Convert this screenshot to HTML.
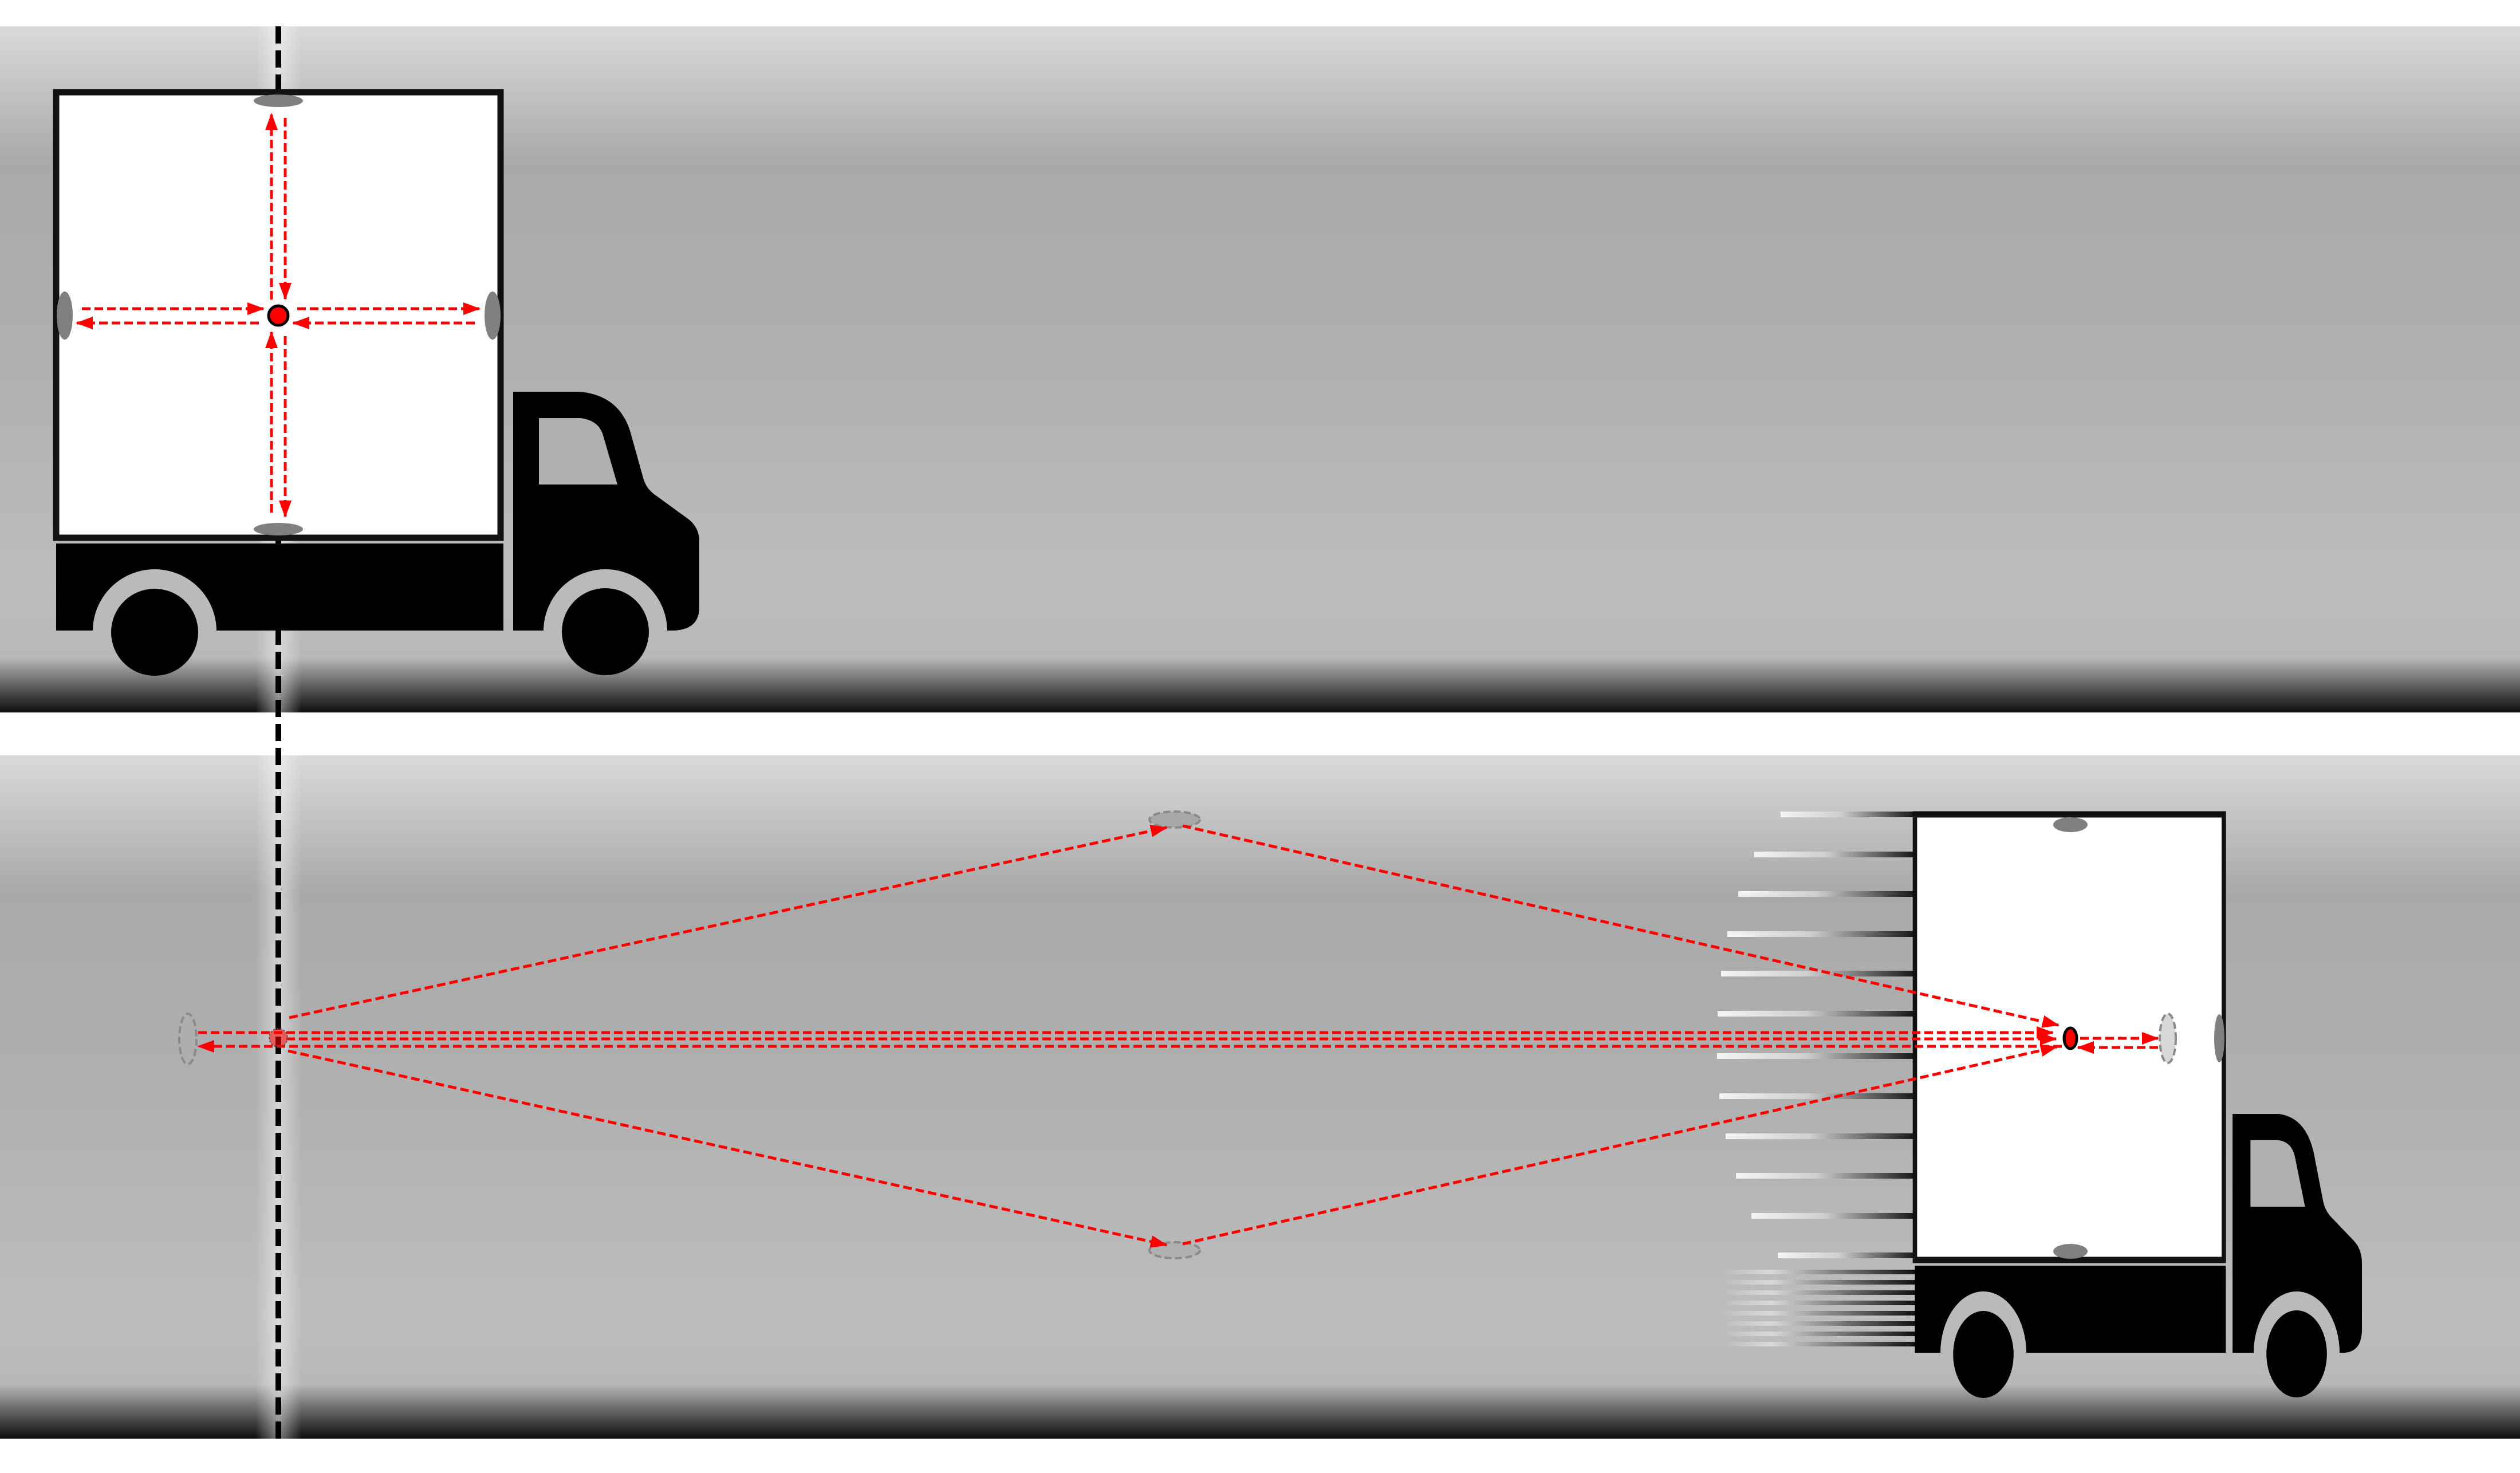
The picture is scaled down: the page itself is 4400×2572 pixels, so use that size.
<!DOCTYPE html>
<html><head><meta charset="utf-8"><style>html,body{margin:0;padding:0;background:#fff}svg{display:block}</style></head>
<body>
<svg width="4400" height="2572" viewBox="0 0 4400 2572" xmlns="http://www.w3.org/2000/svg">
<defs>
<linearGradient id="band" x1="0" y1="0" x2="0" y2="1">
<stop offset="0" stop-color="#d9d9d9"/><stop offset="0.2" stop-color="#a9a9a9"/><stop offset="0.5" stop-color="#b0b0b0"/><stop offset="0.82" stop-color="#bdbdbd"/><stop offset="0.92" stop-color="#b8b8b8"/><stop offset="1" stop-color="#0e0e0e"/>
</linearGradient>
<linearGradient id="halo" x1="0" y1="0" x2="1" y2="0">
<stop offset="0" stop-color="#fff" stop-opacity="0"/><stop offset="0.5" stop-color="#fff" stop-opacity="0.45"/><stop offset="1" stop-color="#fff" stop-opacity="0"/>
</linearGradient>
<linearGradient id="speed" x1="0" y1="0" x2="1" y2="0">
<stop offset="0" stop-color="#f4f4f4"/><stop offset="0.45" stop-color="#cfcfcf"/><stop offset="1" stop-color="#1a1a1a"/>
</linearGradient>
<linearGradient id="speed2" x1="0" y1="0" x2="1" y2="0">
<stop offset="0" stop-color="#e0e0e0" stop-opacity="0"/><stop offset="0.25" stop-color="#d8d8d8"/><stop offset="1" stop-color="#111"/>
</linearGradient>
<marker id="ah" markerUnits="userSpaceOnUse" markerWidth="30" markerHeight="22" refX="28" refY="11" orient="auto"><path d="M0,0 L30,11 L0,22 Z" fill="#ff0000"/></marker>
<g id="truck">
<rect x="98" y="161" width="776" height="778" fill="#fff" stroke="#111" stroke-width="11"/>
<rect x="98" y="949" width="781" height="152" fill="#000"/>
<path d="M896,684 H1012 Q1080,690 1100,752 L1124,838 Q1130,855 1145,865 L1200,905 Q1221,920 1221,945 V1060 Q1221,1100 1175,1101 H896 Z" fill="#000"/>
<path d="M941,730 H1012 Q1045,733 1053,760 L1078,846 H941 Z" fill="#b0b0b0"/>
<path d="M162,1102 A108,108 0 0 1 378,1102 Z" fill="#bababa"/>
<path d="M949,1102 A108,108 0 0 1 1165,1102 Z" fill="#bababa"/>
<circle cx="270" cy="1104" r="76" fill="#000"/>
<circle cx="1057" cy="1103" r="76" fill="#000"/>
</g>
</defs>

<rect x="0" y="46" width="4400" height="1198" fill="url(#band)"/>
<rect x="446" y="46" width="80" height="1198" fill="url(#halo)"/>
<rect x="0" y="1319" width="4400" height="1193" fill="url(#band)"/>
<rect x="446" y="1319" width="80" height="1193" fill="url(#halo)"/>

<line x1="486" y1="46" x2="486" y2="2512" stroke="#000" stroke-width="10" stroke-dasharray="30 12"/>

<use href="#truck"/>
<g fill="#808080">
<ellipse cx="486" cy="176" rx="43" ry="11"/><ellipse cx="486" cy="924" rx="43" ry="11"/>
<ellipse cx="113" cy="551" rx="14" ry="42"/><ellipse cx="860" cy="551" rx="14" ry="42"/>
</g>
<g stroke="#ff0000" stroke-width="5" stroke-dasharray="15 7" fill="none" marker-end="url(#ah)">
<line x1="474" y1="523" x2="474" y2="199"/>
<line x1="498" y1="206" x2="498" y2="522"/>
<line x1="474" y1="895" x2="474" y2="580"/>
<line x1="498" y1="587" x2="498" y2="902"/>
<line x1="143" y1="539" x2="460" y2="539"/>
<line x1="452" y1="564" x2="134" y2="564"/>
<line x1="519" y1="539" x2="837" y2="539"/>
<line x1="829" y1="564" x2="512" y2="564"/>
</g>
<circle cx="486" cy="551" r="17" fill="#ff0000" stroke="#000" stroke-width="5"/>

<g>
<rect x="3109" y="1417" width="231" height="10" fill="url(#speed)"/>
<rect x="3063" y="1487" width="277" height="10" fill="url(#speed)"/>
<rect x="3035" y="1556" width="305" height="10" fill="url(#speed)"/>
<rect x="3016" y="1626" width="324" height="10" fill="url(#speed)"/>
<rect x="3005" y="1695" width="335" height="10" fill="url(#speed)"/>
<rect x="2999" y="1765" width="341" height="10" fill="url(#speed)"/>
<rect x="2998" y="1839" width="342" height="10" fill="url(#speed)"/>
<rect x="3002" y="1909" width="338" height="10" fill="url(#speed)"/>
<rect x="3013" y="1979" width="327" height="10" fill="url(#speed)"/>
<rect x="3031" y="2048" width="309" height="10" fill="url(#speed)"/>
<rect x="3058" y="2118" width="282" height="10" fill="url(#speed)"/>
<rect x="3104" y="2187" width="236" height="10" fill="url(#speed)"/>
</g>
<g>
<rect x="3010" y="2217" width="335" height="8" fill="url(#speed2)"/>
<rect x="3010" y="2235" width="335" height="8" fill="url(#speed2)"/>
<rect x="3010" y="2253" width="335" height="8" fill="url(#speed2)"/>
<rect x="3010" y="2271" width="335" height="8" fill="url(#speed2)"/>
<rect x="3010" y="2289" width="335" height="8" fill="url(#speed2)"/>
<rect x="3010" y="2307" width="335" height="8" fill="url(#speed2)"/>
<rect x="3010" y="2325" width="335" height="8" fill="url(#speed2)"/>
<rect x="3010" y="2343" width="335" height="8" fill="url(#speed2)"/>
</g>

<g transform="translate(3275.4,1261) scale(0.695,1)">
<use href="#truck"/>
</g>
<g fill="#808080">
<ellipse cx="3615" cy="1440" rx="30" ry="13"/><ellipse cx="3615" cy="2185" rx="30" ry="13"/>
<ellipse cx="3875" cy="1813" rx="9" ry="42"/>
</g>
<g stroke="#8a8a8a" stroke-width="4" stroke-dasharray="12 6">
<ellipse cx="3785" cy="1813" rx="14" ry="43" fill="#d8d8d8"/>
<ellipse cx="328" cy="1814" rx="15" ry="44" fill="none"/>
<ellipse cx="2051" cy="1431" rx="44" ry="14" fill="#a8a8a8"/>
<ellipse cx="2051" cy="2183" rx="44" ry="14" fill="#b0b0b0"/>
</g>
<g stroke="#ff0000" stroke-width="5" stroke-dasharray="15 7" fill="none" marker-end="url(#ah)">
<line x1="505" y1="1777" x2="2037" y2="1445"/>
<line x1="2065" y1="1442" x2="3594" y2="1790"/>
<line x1="503" y1="1835" x2="2037" y2="2174"/>
<line x1="2065" y1="2172" x2="3591" y2="1828"/>
<line x1="346" y1="1803" x2="3584" y2="1803"/>
<line x1="500" y1="1814" x2="3590" y2="1814"/>
<line x1="3600" y1="1827" x2="346" y2="1827"/>
<line x1="3632" y1="1813" x2="3768" y2="1813"/>
<line x1="3768" y1="1829" x2="3628" y2="1829"/>
</g>
<circle cx="486" cy="1812" r="16" fill="#ff0000" fill-opacity="0.55" stroke="#555" stroke-width="2" stroke-dasharray="3 3"/>
<ellipse cx="3615" cy="1813" rx="11" ry="18" fill="#ff0000" stroke="#000" stroke-width="5"/>
</svg>
</body></html>
